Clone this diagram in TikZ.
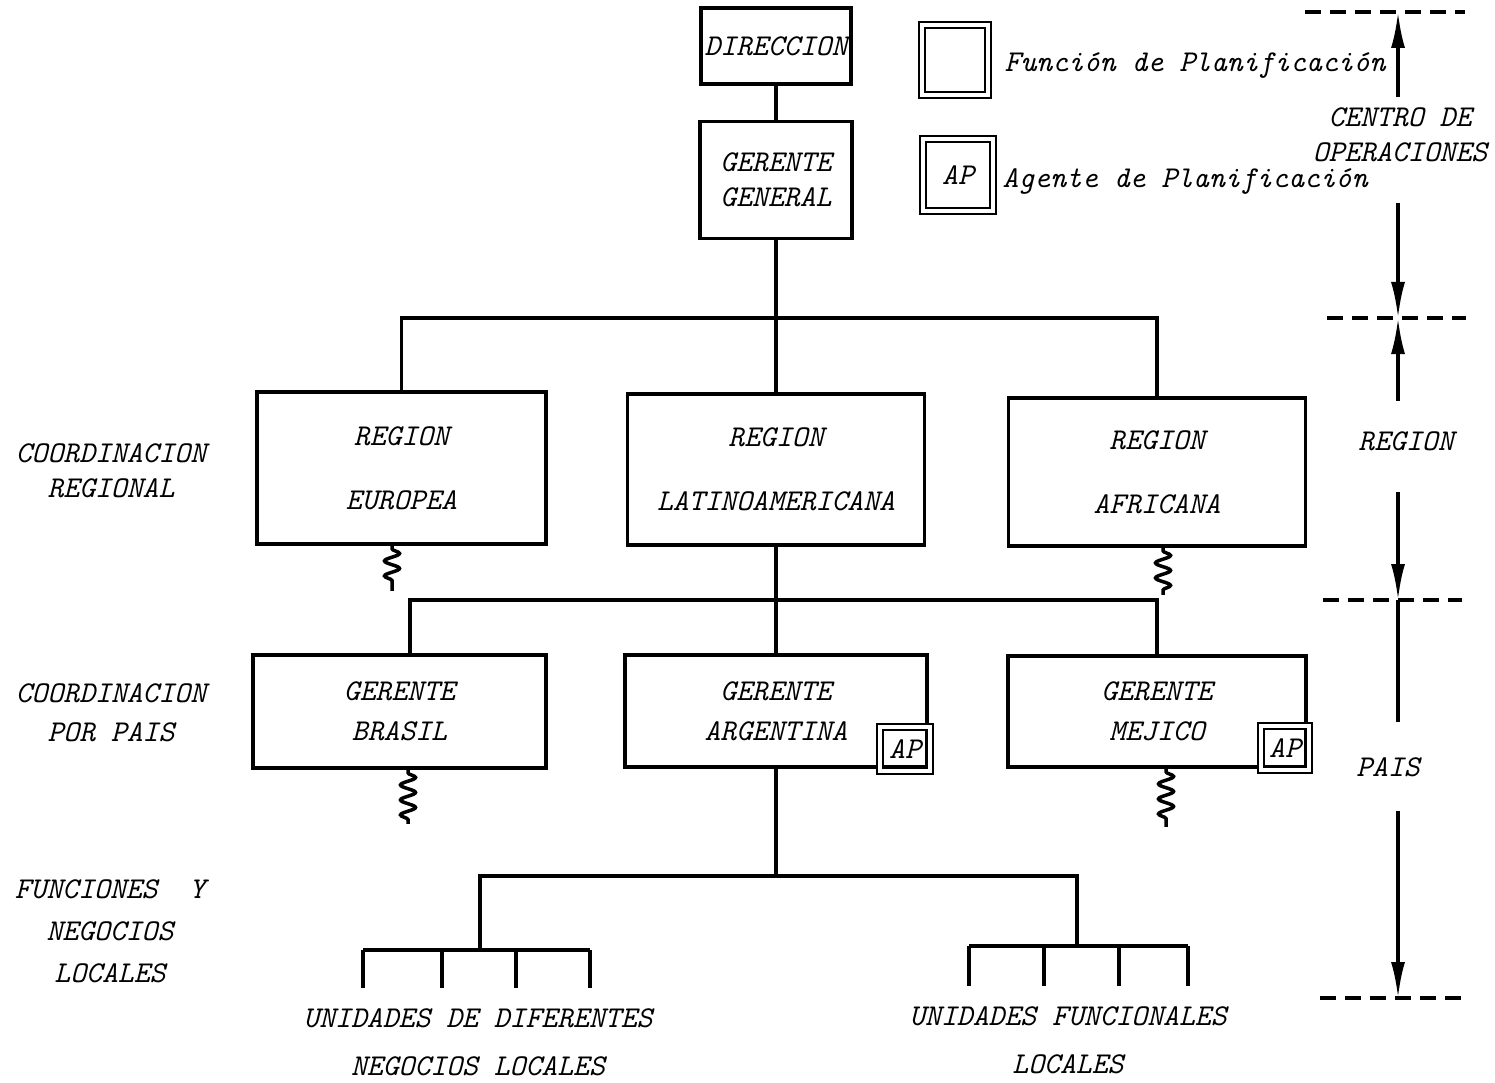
\documentclass[tikz,border=0pt]{standalone}
\usepackage{fontspec}
\usepackage{tikz}
\usetikzlibrary{arrows.meta, positioning, decorations.pathmorphing}
\newcommand{\lbl}{\fontsize{8.6pt}{10pt}\selectfont\ttfamily\itshape}

\begin{document}
\begin{tikzpicture}[
  x=0.1mm, y=-0.1mm,
  box/.style={draw, line width=1pt, align=center, font=\lbl, inner sep=0pt},
  apbox/.style={draw, double, line width=0.6pt, double distance=0.45mm, align=center, font=\lbl, inner sep=0pt},
  txt/.style={align=center, font=\lbl, inner sep=0pt},
  ln/.style={line width=1pt},
  wig/.style={line width=1pt, decorate, decoration={snake, amplitude=0.75mm, segment length=1.5mm, pre length=0.3mm, post length=0.3mm}},
  arr/.style={-{Latex[length=3.6mm, width=1.4mm]}, line width=1pt},
  lvl/.style={line width=1pt, dash pattern=on 1.6mm off 0.9mm}
]
\useasboundingbox (0,0) rectangle (1495,1082);

% centro de operaciones
\node[box, minimum width=15mm, minimum height=7.6mm] (dir) at (776,46) {DIRECCION};
\node[box, minimum width=15.2mm, minimum height=11.7mm] (gg) at (776,180) {GERENTE\\GENERAL};

% leyenda
\node[apbox, minimum width=6.6mm, minimum height=7mm] (lfun) at (955,60) {};
\node[apbox, minimum width=7mm, minimum height=7.2mm] (lap) at (958,175) {AP};
\node[txt, anchor=west] (tfun) at (1004,66) {Función de Planificación};
\node[txt, anchor=west] (tap) at (1002,182) {Agente de Planificación};

% regiones
\node[box, minimum width=28.9mm, minimum height=15.2mm] (europa) at (401.5,468) {REGION\\[2.9mm]EUROPEA};
\node[box, minimum width=29.7mm, minimum height=15.1mm] (latam) at (776,469.5) {REGION\\[2.9mm]LATINOAMERICANA};
\node[box, minimum width=29.7mm, minimum height=14.8mm] (africa) at (1157,472) {REGION\\[2.9mm]AFRICANA};

% paises
\node[box, minimum width=29.3mm, minimum height=11.3mm] (brasil) at (399.5,711.5) {GERENTE\\[0.5mm]BRASIL};
\node[box, minimum width=30.2mm, minimum height=11.2mm] (argentina) at (776,711) {GERENTE\\[0.5mm]ARGENTINA};
\node[box, minimum width=29.8mm, minimum height=11.1mm] (mejico) at (1157,711.5) {GERENTE\\[0.5mm]MEJICO};
\node[apbox, minimum width=5mm, minimum height=4.4mm] (aparg) at (905,749) {AP};
\node[apbox, minimum width=4.8mm, minimum height=4.4mm] (apmej) at (1285,748) {AP};

% niveles a la izquierda
\node[txt] (creg) at (111,471) {COORDINACION\\REGIONAL};
\node[txt] (cpais) at (111,713) {COORDINACION\\[0.4mm]POR PAIS};
\node[txt] (cfun) at (110,931) {FUNCIONES\ \ Y\\[0.7mm]NEGOCIOS\\[0.7mm]LOCALES};

% unidades
\node[txt] (udif) at (478,1042) {UNIDADES DE DIFERENTES\\[1.3mm]NEGOCIOS LOCALES};
\node[txt] (ufun) at (1068,1040) {UNIDADES FUNCIONALES\\[1.3mm]LOCALES};

% conexiones
\coordinate (bus1) at (776,318);
\coordinate (bus2) at (776,600);
\coordinate (bus2l) at (410,600);
\coordinate (bus3) at (776,876);
\coordinate (ul) at (480,950);
\coordinate (ur) at (1077,946);
\draw[ln] (dir) -- (gg);
\draw[ln] (gg) -- (latam);
\draw[ln] (europa.north) |- (bus1) -| (africa.north);
\draw[ln] (latam) -- (argentina);
\draw[ln] (bus2l |- brasil.north) |- (bus2) -| (mejico.north);
\draw[ln] (argentina) -- (bus3);
\draw[ln] (ul) |- (bus3) -| (ur);
\draw[ln] (363,950) -- (590,950);
\foreach \x in {363,442,516,590} \draw[ln] (\x,950) -- ++(0,38);
\draw[ln] (969,946) -- (1188,946);
\foreach \x in {969,1044,1119,1188} \draw[ln] (\x,946) -- ++(0,40);

\draw[wig] ([xshift=-0.95mm]europa.south) -- ++(0,45);
\draw[wig] ([xshift=0.6mm]africa.south) -- ++(0,47);
\draw[wig] ([xshift=0.85mm]brasil.south) -- ++(0,54);
\draw[wig] ([xshift=0.9mm]mejico.south) -- ++(0,58);

% escala a la derecha
\node[txt] (lcentro) at (1400,135) {CENTRO DE\\OPERACIONES};
\node[txt] (lregion) at (1406,441) {REGION};
\node[txt] (lpais) at (1388,767) {PAIS};
\coordinate (lev0) at (1398,12);
\coordinate (lev1) at (1398,318);
\coordinate (lev2) at (1398,600);
\coordinate (lev3) at (1398,998);
\draw[lvl] (1305,12) -- (1465,12);
\draw[lvl] (1327,318) -- (1466,318);
\draw[lvl] (1323,600) -- (1462,600);
\draw[lvl] (1320,998) -- (1468,998);
\draw[arr] ([yshift=1mm]lcentro.north -| lev0) -- (lev0);
\draw[arr] ([yshift=-4mm]lcentro.south -| lev0) -- (lev1);
\draw[arr] ([yshift=3mm]lregion.north -| lev0) -- (lev1);
\draw[arr] ([yshift=-4.1mm]lregion.south -| lev0) -- (lev2);
\draw[ln] (lev2) -- ([yshift=3.5mm]lpais.north -| lev0);
\draw[arr] ([yshift=-3.4mm]lpais.south -| lev0) -- (lev3);
\end{tikzpicture}
\end{document}
